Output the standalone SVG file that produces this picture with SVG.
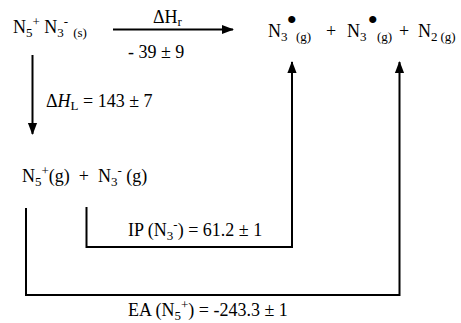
<svg xmlns="http://www.w3.org/2000/svg" width="461" height="323" viewBox="0 0 461 323">
<defs>
<style>
text{font-family:"Liberation Serif","Times New Roman",serif;font-size:18px;fill:#000}
.s{font-size:13px}
.b{font-size:30px}
.c{fill:none;stroke:#000;stroke-width:2}
</style>
<marker id="ah" markerUnits="userSpaceOnUse" markerWidth="14" markerHeight="12" viewBox="-12 -6 14 12" refX="0" refY="0" orient="auto">
<path d="M1,0 L-11,-4.6 L-11,4.6 Z" fill="#000"/>
</marker>
</defs>
<rect width="461" height="323" fill="#fff"/>
<g id="reactant">
<text x="13" y="33">N<tspan class="s" dy="4">5</tspan><tspan class="s" dy="-11">+</tspan><tspan dy="7"> N</tspan><tspan class="s" dy="4">3</tspan><tspan class="s" dy="-11">-</tspan><tspan class="s" dy="11" dx="5">(s)</tspan></text>
</g>
<g id="products">
<text x="268" y="37">N<tspan class="s" dy="4">3</tspan><tspan class="b" x="286.5" y="30">•</tspan><tspan class="s" x="296" y="41">(g)</tspan></text>
<text x="326" y="37">+</text>
<text x="347" y="37">N<tspan class="s" dy="4">3</tspan><tspan class="b" x="367.5" y="30">•</tspan><tspan class="s" x="377" y="41">(g)</tspan></text>
<text x="399" y="37">+</text>
<text x="418" y="37">N<tspan class="s" dy="4">2</tspan><tspan class="s" dx="3">(g)</tspan></text>
</g>
<g id="gas-ions">
<text x="22" y="182">N<tspan class="s" dy="4">5</tspan><tspan class="s" dy="-11">+</tspan><tspan dy="7">(g)&#160;&#160;+&#160;&#160;N</tspan><tspan class="s" dy="4">3</tspan><tspan class="s" dy="-11">-</tspan><tspan dy="7">&#160;(g)</tspan></text>
</g>
<g id="connectors">
<line class="c" x1="113" y1="29.5" x2="233" y2="29.5" marker-end="url(#ah)"/>
<line class="c" x1="32.5" y1="55" x2="32.5" y2="134" marker-end="url(#ah)"/>
<path class="c" d="M86.5,207 V247 H292 V62" marker-end="url(#ah)"/>
<path class="c" d="M26,208 V295 H399.5 V62" marker-end="url(#ah)"/>
</g>
<g id="labels">
<text x="153" y="23">ΔH<tspan class="s" dy="3">r</tspan></text>
<text x="128" y="58">- 39 ± 9</text>
<text x="46" y="107">Δ<tspan font-style="italic">H</tspan><tspan class="s" dy="3">L</tspan><tspan dy="-3"> = 143 ± 7</tspan></text>
<text x="128" y="236">IP (N<tspan class="s" dy="4">3</tspan><tspan class="s" dy="-11">-</tspan><tspan dy="7">) = 61.2 ± 1</tspan></text>
<text x="128" y="316">EA (N<tspan class="s" dy="4">5</tspan><tspan class="s" dy="-11">+</tspan><tspan dy="7">) = -243.3 ± 1</tspan></text>
</g>
</svg>
